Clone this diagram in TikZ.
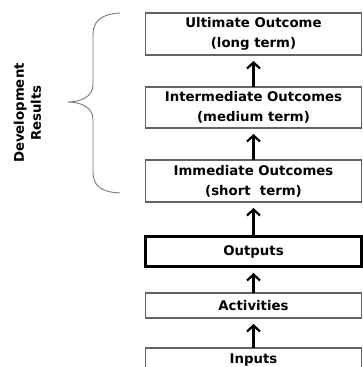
\documentclass[tikz,border=0pt]{standalone}
\usepackage{fontspec}
\setmainfont{DejaVu Sans}
\usepackage{tikz}
\usetikzlibrary{arrows.meta, positioning}
\definecolor{boxgray}{RGB}{100, 100, 100}
\definecolor{bracegray}{RGB}{120, 120, 120}

\begin{document}
\begin{tikzpicture}[
    x=1pt, y=1pt,
    node distance=32pt,
    box/.style={rectangle, draw=boxgray, line width=1.2pt, minimum width=216pt, inner sep=0pt, outer sep=0pt, align=center, font=\fontsize{13.3}{20}\selectfont\bfseries},
    outbox/.style={box, draw=black, line width=3pt},
    arrow/.style={-{Straight Barb[length=6pt, width=13pt]}, line width=2.2pt, black, shorten >=6pt}
]
\useasboundingbox (0,0) rectangle (363,367);
\clip (0,0) rectangle (363,367);

\node[box, minimum height=42pt, anchor=north] (ultimate) at (253.5,354) {Ultimate Outcome\\(long term)};
\node[box, minimum height=41pt, below=32pt of ultimate] (intermediate) {Intermediate Outcomes\\(medium term)};
\node[box, minimum height=42pt, below=32pt of intermediate] (immediate) {Immediate Outcomes\\(short~ term)};
\node[outbox, minimum height=30pt, below=35pt of immediate] (outputs) {Outputs};
\node[box, minimum height=25pt, below=26pt of outputs] (activities) {Activities};
\node[box, minimum height=24pt, below=30pt of activities] (inputs) {Inputs};

\draw[arrow] (intermediate) -- (ultimate);
\draw[arrow] (immediate) -- (intermediate);
\draw[arrow] (outputs) -- (immediate);
\draw[arrow] (activities) -- (outputs);
\draw[arrow] (inputs) -- (activities);

% brace round the three outcomes
\draw[bracegray, line width=0.9pt] (120,354) .. controls (100,353) and (93,345) .. (93,332)
    -- (93,282) .. controls (93,270) and (80,265) .. (68,265)
    .. controls (80,265) and (93,260) .. (93,248)
    -- (93,195) .. controls (93,182) and (100,175) .. (120,174);

\node[rotate=90, align=center, font=\fontsize{13.3}{17}\selectfont\bfseries] (results) at (27.5,254) {Development\\Results};

\end{tikzpicture}
\end{document}
